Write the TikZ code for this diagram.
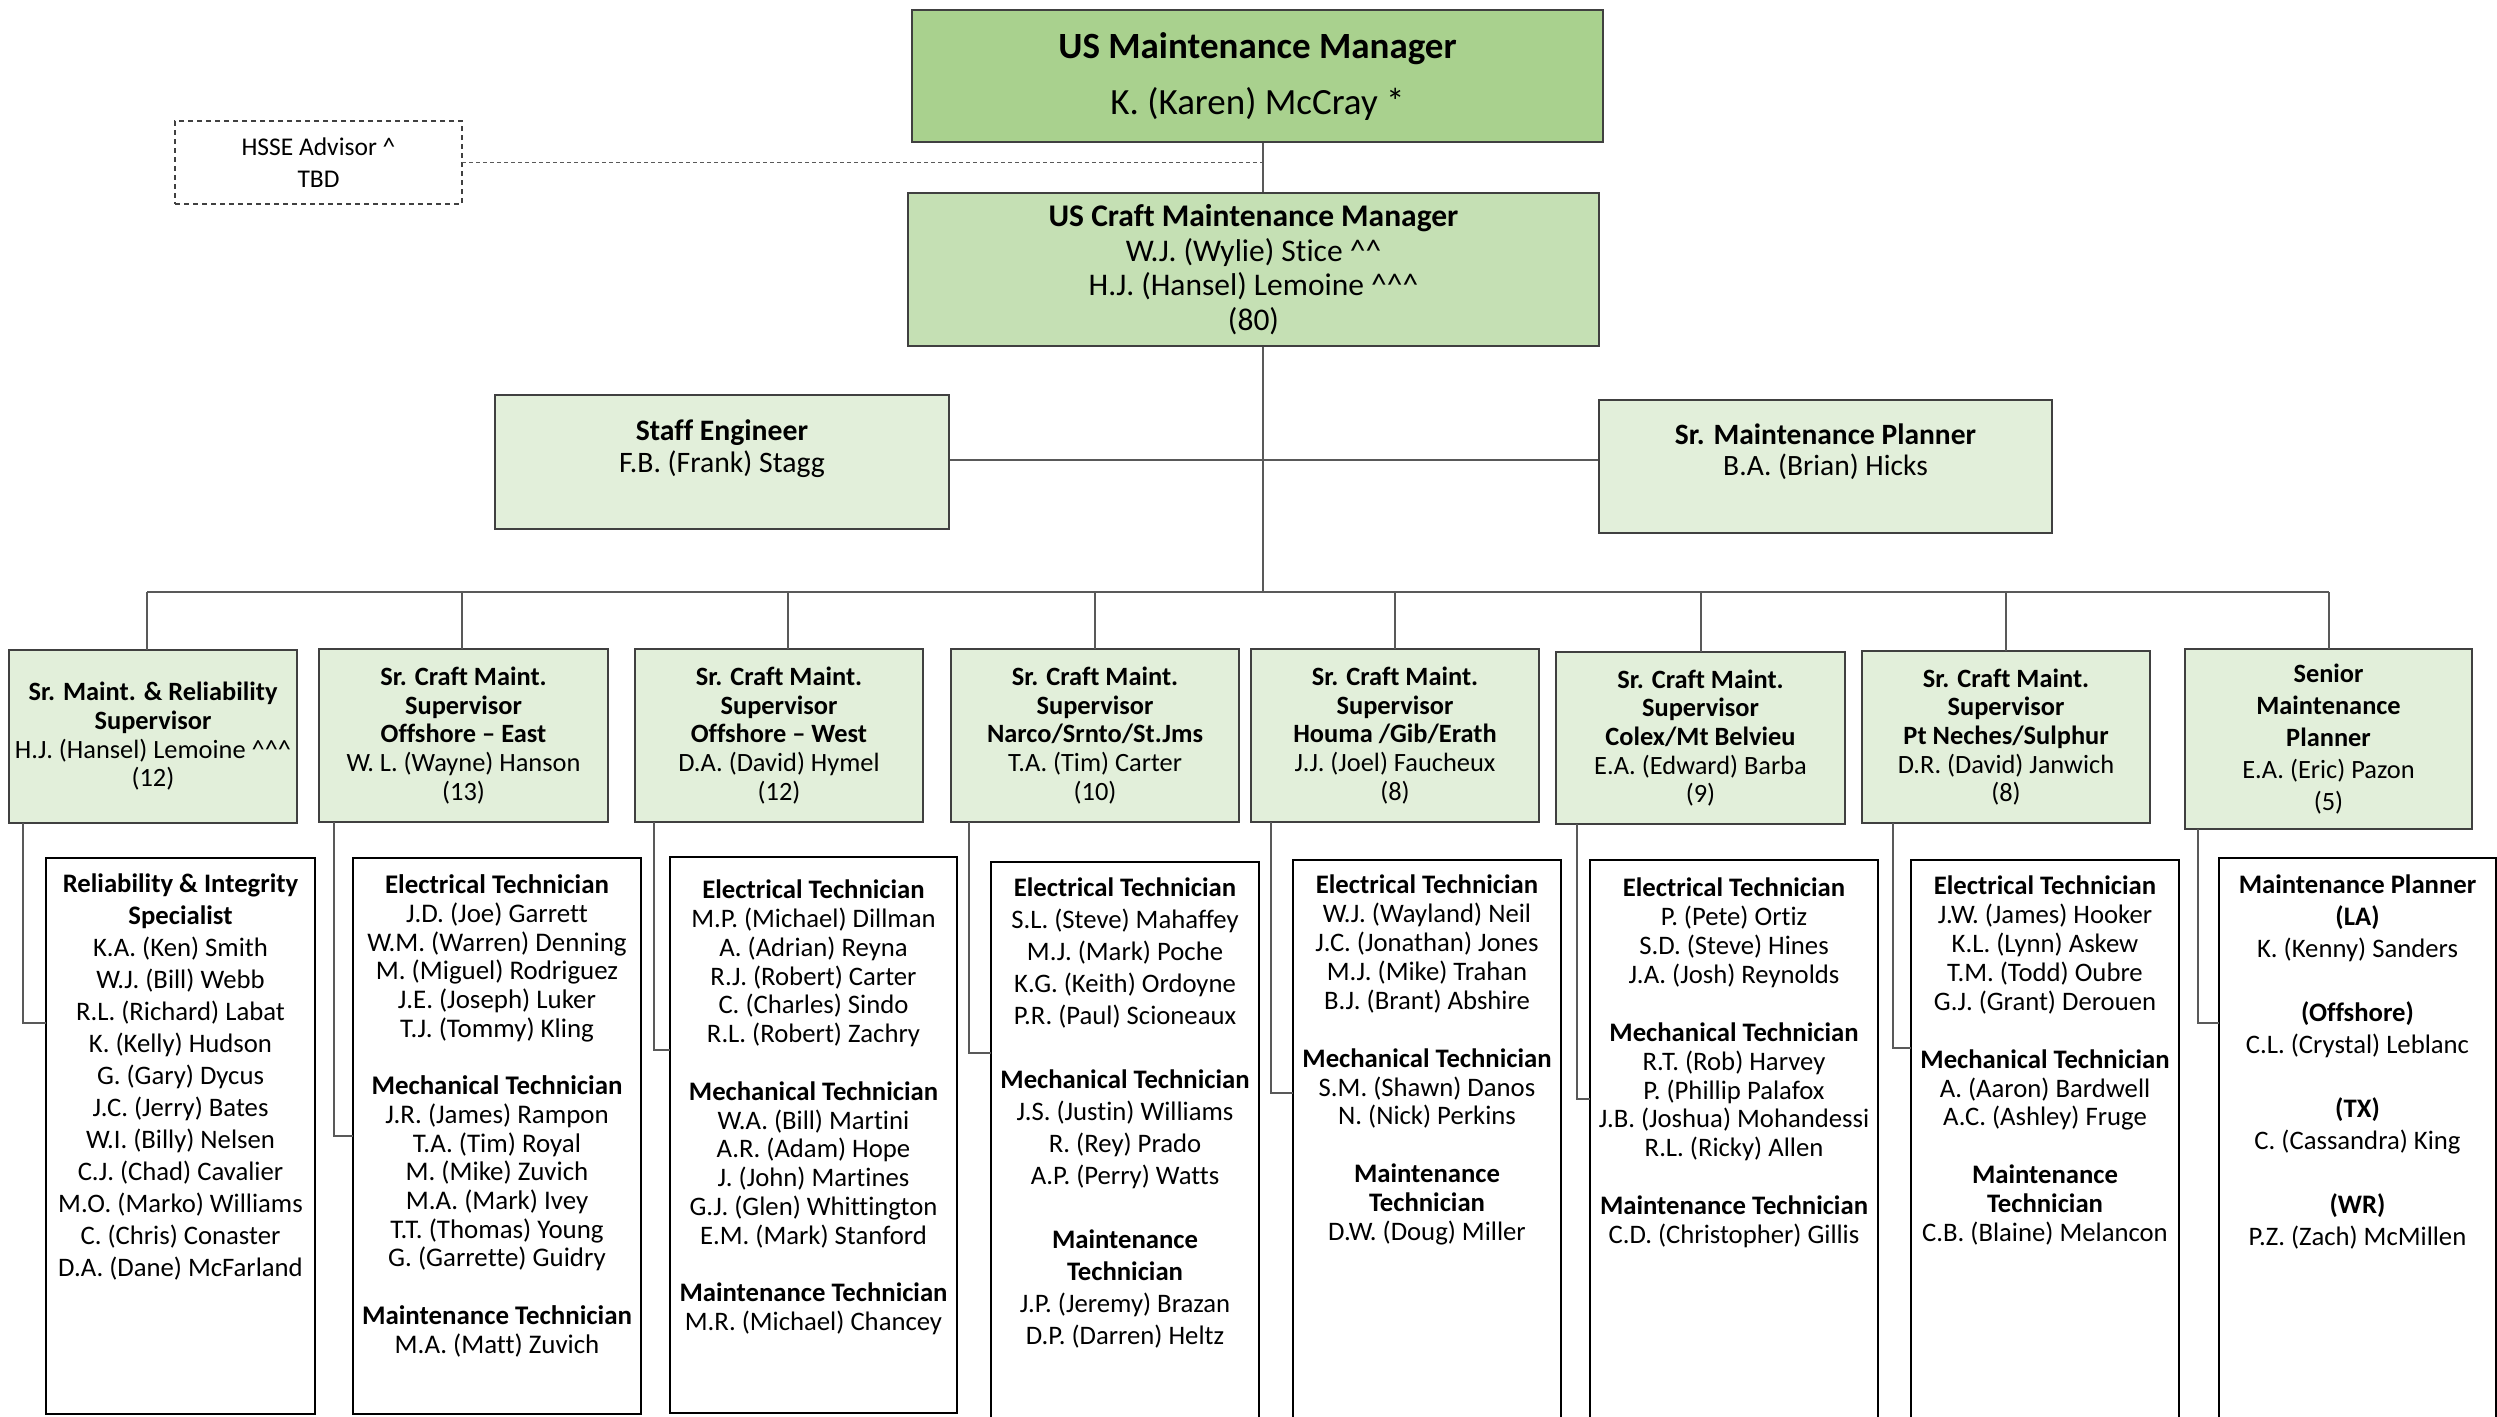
\documentclass[tikz,border=0pt]{standalone}
\usepackage{fontspec}
\setmainfont{Carlito}[Ligatures={TeX,NoCommon}]
\usetikzlibrary{calc}
\definecolor{topg}{HTML}{A9D18E}
\definecolor{craftg}{HTML}{C5E0B4}
\definecolor{lightg}{HTML}{E2EFDA}
\definecolor{linec}{HTML}{595959}
\definecolor{boxb}{HTML}{404040}
\newcommand\crt{\textasciicircum}
\newcommand\mybox[7]{\node[#2,anchor=north west,minimum width={(#5-#3)*1pt},minimum height={(#6-#4)*1pt}] (#1) at (#3,#4) {#7};}
\tikzset{
  box/.style={draw=boxb,line width=1.5pt,inner sep=0pt,outer sep=0pt,align=center},
  topbox/.style={box,fill=topg,font=\fontsize{37}{56}\selectfont},
  craftbox/.style={box,fill=craftg,font=\fontsize{31.5}{34.5}\selectfont},
  midbox/.style={box,fill=lightg},
  hssebox/.style={box,fill=white,dashed,dash pattern=on 5pt off 4pt,line width=1.8pt,font=\fontsize{25.5}{32}\selectfont},
  lvtwo/.style={box,fill=lightg,font=\fontsize{26.4}{28.7}\selectfont},
  lvthree/.style={box,fill=white,draw=black},
  txt/.style={inner sep=0pt,outer sep=0pt,align=center,anchor=north},
  conn/.style={draw=linec,line width=1.6pt},
}
\begin{document}
\begin{tikzpicture}[x=1pt,y=-1pt]
\useasboundingbox (0,0) rectangle (2497,1416);
\clip (0,0) rectangle (2497,1416);
% coordinates of connector routes
\coordinate (spine) at (1263,592);
\coordinate (barL) at (147,592);
\coordinate (barR) at (2329,592);
\foreach \n/\x in {a/147,b/462,c/788,d/1095,e/1395,f/1701,g/2006,h/2329}{\coordinate (d\n) at (\x,592);}
\coordinate (ea) at (23,1023);
\coordinate (eb) at (334,1136);
\coordinate (ec) at (654,1050);
\coordinate (ed) at (969,1053);
\coordinate (ee) at (1271,1093);
\coordinate (ef) at (1577,1099);
\coordinate (eg) at (1893,1048);
\coordinate (eh) at (2198,1023);

% connectors (drawn first, under the boxes)
\draw[conn] (1263,142) -- (spine);
\draw[conn] (barL) -- (barR);
\draw[conn] (495,460) -- (1599,460);

% top level
\mybox{top}{topbox}{912}{10}{1603}{142}{\textbf{US Maintenance Manager}\\K. (Karen) McCray *}
\mybox{hsse}{hssebox}{175}{121}{462}{204}{HSSE Advisor \crt\\TBD}
\mybox{craft}{craftbox}{908}{193}{1599}{346}{\textbf{US Craft Maintenance Manager}\\W.J. (Wylie) Stice \crt\crt\\H.J. (Hansel) Lemoine \crt\crt\crt\\(80)}
\draw[conn,dashed,dash pattern=on 4pt off 3pt,line width=1.2pt] (hsse.east) -- (hsse.east -| spine);

% staff row
\mybox{staff}{midbox}{495}{395}{949}{529}{}
\mybox{planner}{midbox}{1599}{400}{2052}{533}{}
\node[txt,font=\fontsize{29.7}{32}\selectfont] (stafft) at ([yshift=-25pt]staff.north) {\textbf{Staff Engineer}\\F.B. (Frank) Stagg};
\node[txt,font=\fontsize{29.5}{31}\selectfont] (plannert) at ([yshift=-24pt]planner.north) {\textbf{Sr. Maintenance Planner}\\B.A. (Brian) Hicks};

% level two
\mybox{la}{lvtwo}{9}{650}{297}{823}{\textbf{Sr. Maint. \& Reliability}\\\textbf{Supervisor}\\H.J. (Hansel) Lemoine \crt\crt\crt\\(12)}
\mybox{lb}{lvtwo}{319}{649}{608}{822}{\textbf{Sr. Craft Maint.}\\\textbf{Supervisor}\\\textbf{Offshore \textendash{} East}\\W. L. (Wayne) Hanson\\(13)}
\mybox{lc}{lvtwo}{635}{649}{923}{822}{\textbf{Sr. Craft Maint.}\\\textbf{Supervisor}\\\textbf{Offshore \textendash{} West}\\D.A. (David) Hymel\\(12)}
\mybox{ld}{lvtwo}{951}{649}{1239}{822}{\textbf{Sr. Craft Maint.}\\\textbf{Supervisor}\\\textbf{Narco/Srnto/St.Jms}\\T.A. (Tim) Carter\\(10)}
\mybox{le}{lvtwo}{1251}{649}{1539}{822}{\textbf{Sr. Craft Maint.}\\\textbf{Supervisor}\\\textbf{Houma /Gib/Erath}\\J.J. (Joel) Faucheux\\(8)}
\mybox{lf}{lvtwo}{1556}{652}{1845}{824}{\textbf{Sr. Craft Maint.}\\\textbf{Supervisor}\\\textbf{Colex/Mt Belvieu}\\E.A. (Edward) Barba\\(9)}
\mybox{lg}{lvtwo}{1862}{651}{2150}{823}{\textbf{Sr. Craft Maint.}\\\textbf{Supervisor}\\\textbf{Pt Neches/Sulphur}\\D.R. (David) Janwich\\(8)}
\mybox{lh}{lvtwo,font=\fontsize{26.4}{32}\selectfont}{2185}{649}{2472}{829}{\textbf{Senior}\\\textbf{Maintenance}\\\textbf{Planner}\\E.A. (Eric) Pazon\\(5)}

\foreach \n in {a,b,c,d,e,f,g,h}{\draw[conn] (d\n) -- (d\n |- l\n.north);}

% level three boxes
\mybox{ta}{lvthree}{46}{858}{315}{1414}{}
\mybox{tb}{lvthree}{353}{858}{641}{1414}{}
\mybox{tc}{lvthree}{670}{857}{957}{1413}{}
\mybox{td}{lvthree}{991}{862}{1259}{1430}{}
\mybox{te}{lvthree}{1293}{860}{1561}{1430}{}
\mybox{tf}{lvthree}{1590}{860}{1878}{1430}{}
\mybox{tg}{lvthree}{1911}{860}{2179}{1430}{}
\mybox{th}{lvthree}{2219}{858}{2496}{1430}{}

\foreach \n in {a,b,c,d,e,f,g,h}{\draw[conn] (l\n.south -| e\n) -- (e\n) -- (e\n -| t\n.west);}

% level three texts
\node[txt,font=\fontsize{26.7}{32}\selectfont] at ([yshift=-16pt]ta.north) {\textbf{Reliability \& Integrity}\\\textbf{Specialist}\\K.A. (Ken) Smith\\W.J. (Bill) Webb\\R.L. (Richard) Labat\\K. (Kelly) Hudson\\G. (Gary) Dycus\\J.C. (Jerry) Bates\\W.I. (Billy) Nelsen\\C.J. (Chad) Cavalier\\M.O. (Marko) Williams\\C. (Chris) Conaster\\D.A. (Dane) McFarland};
\node[txt,font=\fontsize{26.9}{28.7}\selectfont] at ([yshift=-17pt]tb.north) {\textbf{Electrical Technician}\\J.D. (Joe) Garrett\\W.M. (Warren) Denning\\M. (Miguel) Rodriguez\\J.E. (Joseph) Luker\\T.J. (Tommy) Kling\\[28.7pt]\textbf{Mechanical Technician}\\J.R. (James) Rampon\\T.A. (Tim) Royal\\M. (Mike) Zuvich\\M.A. (Mark) Ivey\\T.T. (Thomas) Young\\G. (Garrette) Guidry\\[28.7pt]\textbf{Maintenance Technician}\\M.A. (Matt) Zuvich};
\node[txt,font=\fontsize{26.7}{28.8}\selectfont] at ([yshift=-23pt]tc.north) {\textbf{Electrical Technician}\\M.P. (Michael) Dillman\\A. (Adrian) Reyna\\R.J. (Robert) Carter\\C. (Charles) Sindo\\R.L. (Robert) Zachry\\[28.8pt]\textbf{Mechanical Technician}\\W.A. (Bill) Martini\\A.R. (Adam) Hope\\J. (John) Martines\\G.J. (Glen) Whittington\\E.M. (Mark) Stanford\\[28.8pt]\textbf{Maintenance Technician}\\M.R. (Michael) Chancey};
\node[txt,font=\fontsize{26.7}{32}\selectfont] at ([yshift=-16pt]td.north) {\textbf{Electrical Technician}\\S.L. (Steve) Mahaffey\\M.J. (Mark) Poche\\K.G. (Keith) Ordoyne\\P.R. (Paul) Scioneaux\\[32pt]\textbf{Mechanical Technician}\\J.S. (Justin) Williams\\R. (Rey) Prado\\A.P. (Perry) Watts\\[32pt]\textbf{Maintenance}\\\textbf{Technician}\\J.P. (Jeremy) Brazan\\D.P. (Darren) Heltz};
\node[txt,font=\fontsize{26.7}{28.9}\selectfont] at ([yshift=-15pt]te.north) {\textbf{Electrical Technician}\\W.J. (Wayland) Neil\\J.C. (Jonathan) Jones\\M.J. (Mike) Trahan\\B.J. (Brant) Abshire\\[28.9pt]\textbf{Mechanical Technician}\\S.M. (Shawn) Danos\\N. (Nick) Perkins\\[28.9pt]\textbf{Maintenance}\\\textbf{Technician}\\D.W. (Doug) Miller};
\node[txt,font=\fontsize{26.7}{28.9}\selectfont] at ([yshift=-18pt]tf.north) {\textbf{Electrical Technician}\\P. (Pete) Ortiz\\S.D. (Steve) Hines\\J.A. (Josh) Reynolds\\[28.9pt]\textbf{Mechanical Technician}\\R.T. (Rob) Harvey\\P. (Phillip Palafox\\J.B. (Joshua) Mohandessi\\R.L. (Ricky) Allen\\[28.9pt]\textbf{Maintenance Technician}\\C.D. (Christopher) Gillis};
\node[txt,font=\fontsize{26.7}{28.9}\selectfont] at ([yshift=-16pt]tg.north) {\textbf{Electrical Technician}\\J.W. (James) Hooker\\K.L. (Lynn) Askew\\T.M. (Todd) Oubre\\G.J. (Grant) Derouen\\[28.9pt]\textbf{Mechanical Technician}\\A. (Aaron) Bardwell\\A.C. (Ashley) Fruge\\[28.9pt]\textbf{Maintenance}\\\textbf{Technician}\\C.B. (Blaine) Melancon};
\node[txt,font=\fontsize{26.7}{32}\selectfont] at ([yshift=-17pt]th.north) {\textbf{Maintenance Planner}\\\textbf{(LA)}\\K. (Kenny) Sanders\\[32pt]\textbf{(Offshore)}\\C.L. (Crystal) Leblanc\\[32pt]\textbf{(TX)}\\C. (Cassandra) King\\[32pt]\textbf{(WR)}\\P.Z. (Zach) McMillen};
\end{tikzpicture}
\end{document}
